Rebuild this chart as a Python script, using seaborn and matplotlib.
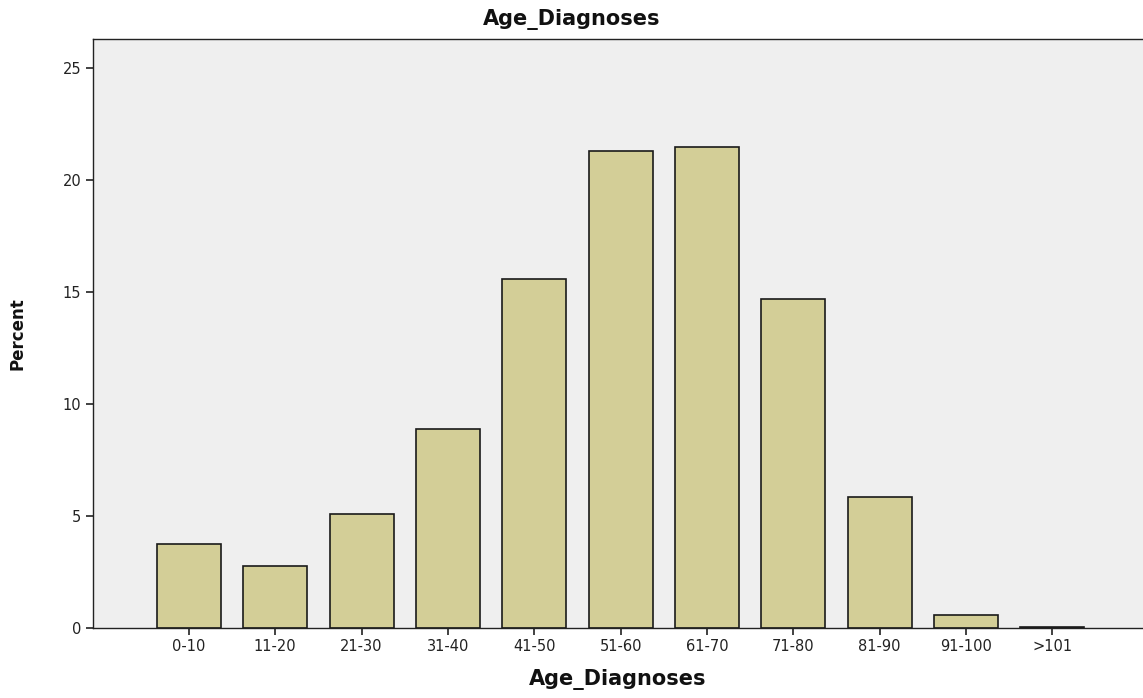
import pandas as pd
import seaborn as sns
import matplotlib.pyplot as plt

# Age at diagnosis distribution (percent)
age_groups = ["0-10", "11-20", "21-30", "31-40", "41-50", "51-60",
              "61-70", "71-80", "81-90", "91-100", ">101"]
percent = [3.75, 2.77, 5.09, 8.88, 15.6, 21.3, 21.5, 14.7, 5.85, 0.58, 0.05]
y_ticks = [0, 5, 10, 15, 20, 25]

df = pd.DataFrame({"Age_Diagnoses": age_groups, "Percent": percent})

sns.set_style("white")
plt.rcParams["font.family"] = ["DejaVu Sans"]

fig = plt.figure(figsize=(11.43, 6.98), dpi=100)
ax = fig.add_axes([0.0814, 0.1003, 0.9186, 0.8437])
ax.set_facecolor("#EFEFEF")

sns.barplot(data=df, x="Age_Diagnoses", y="Percent", color="#D3CE97",
            width=0.74, edgecolor="#1a1a1a", linewidth=1.2, saturation=1, ax=ax)

ax.set_xlim(-1.11, 11.05)
ax.set_ylim(0, 26.3)
ax.set_yticks(y_ticks)

for side in ["left", "top", "bottom"]:
    ax.spines[side].set_visible(True)
    ax.spines[side].set_color("#222222")
    ax.spines[side].set_linewidth(1.0)
ax.spines["right"].set_visible(False)

ax.tick_params(axis="both", direction="out", length=5, width=1.3,
               color="#333333", labelsize=10.5, labelcolor="#222222",
               bottom=True, left=True)
ax.tick_params(axis="x", pad=3)

fig.suptitle("Age_Diagnoses", x=0.5, y=0.972, va="center",
             fontsize=15, fontweight="bold", color="#111111")
ax.set_xlabel("Age_Diagnoses", fontsize=15, fontweight="bold",
              labelpad=11, color="#111111")
ax.set_ylabel("Percent", fontsize=12, fontweight="bold",
              labelpad=26, color="#111111")

fig.savefig("out.png", dpi=100)
